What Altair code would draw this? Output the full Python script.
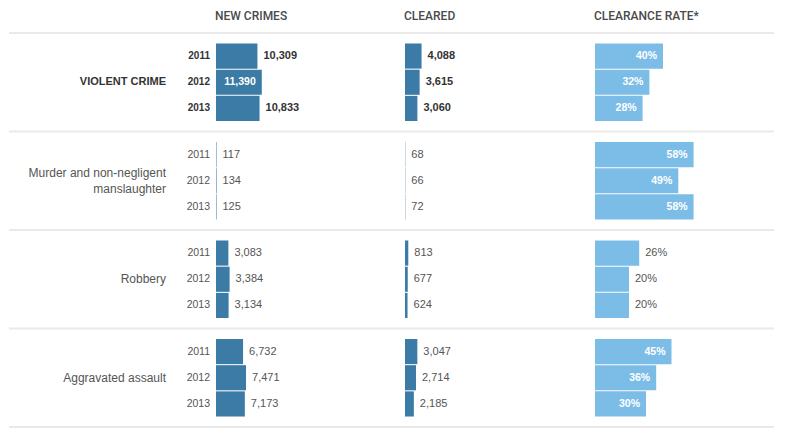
import altair as alt
import pandas as pd

groups = ["VIOLENT CRIME", "Murder and non-negligent|manslaughter", "Robbery", "Aggravated assault"]
years = ["2011", "2012", "2013"]
new_crimes = [[10309, 11390, 10833], [117, 134, 125], [3083, 3384, 3134], [6732, 7471, 7173]]
cleared = [[4088, 3615, 3060], [68, 66, 72], [813, 677, 624], [3047, 2714, 2185]]
rates = [[40, 32, 28], [58, 49, 58], [26, 20, 20], [45, 36, 30]]
headers = ["NEW CRIMES", "CLEARED", "CLEARANCE RATE*"]

rows = []
for gi, g in enumerate(groups):
    for yi, y in enumerate(years):
        rows.append({
            "group": g, "gi": gi, "year": y,
            "new": new_crimes[gi][yi], "new_lbl": f"{new_crimes[gi][yi]:,}",
            "cleared": cleared[gi][yi], "cleared_lbl": f"{cleared[gi][yi]:,}",
            "rate": rates[gi][yi], "rate_lbl": f"{rates[gi][yi]}%",
        })
df = pd.DataFrame(rows)
gdf = pd.DataFrame({"group": groups, "gi": list(range(len(groups)))})

DARK = "#3b7ba6"
LIGHT = "#7cbde8"
LINE = "#e9e9e9"
FONT = "Liberation Sans"
H = 394

Y = alt.Y("group:N", sort=groups, scale=alt.Scale(paddingInner=0, paddingOuter=0), axis=None)
YOFF = alt.YOffset("year:N", sort=years, scale=alt.Scale(paddingInner=0.04, paddingOuter=0.4))


def rules():
    top = alt.Chart(gdf).mark_rule(color=LINE, strokeWidth=2).encode(
        y=alt.Y("group:N", sort=groups, bandPosition=0, scale=alt.Scale(paddingInner=0, paddingOuter=0), axis=None))
    bottom = alt.Chart(gdf).transform_filter(f"datum.gi == {len(groups) - 1}").mark_rule(color=LINE, strokeWidth=2).encode(
        y=alt.Y("group:N", sort=groups, bandPosition=1, scale=alt.Scale(paddingInner=0, paddingOuter=0), axis=None))
    return [top, bottom]


def title(text):
    return alt.TitleParams(text, anchor="start", font="Roboto", fontSize=12, fontWeight=500,
                           color="#4a4a4a", offset=9)


# label panel
xl = alt.X("pos:Q", scale=alt.Scale(domain=[0, 1]), axis=None)
lab_base = alt.Chart(df).transform_calculate(pos="1")
cat_first = alt.Chart(gdf).transform_filter("datum.gi == 0").transform_calculate(pos="1").mark_text(
    align="right", baseline="middle", dx=-50, font=FONT, fontSize=11, fontWeight="bold", color="#333"
).encode(x=xl, y=Y, text="group:N")
cat_single = alt.Chart(gdf).transform_filter("datum.gi > 0 && indexof(datum.group, '|') < 0").transform_calculate(pos="1").mark_text(
    align="right", baseline="middle", dx=-50, font=FONT, fontSize=12, color="#555"
).encode(x=xl, y=Y, text="group:N")
cat_multi = alt.Chart(gdf).transform_filter("datum.gi > 0 && indexof(datum.group, '|') >= 0").transform_calculate(pos="1").mark_text(
    align="right", baseline="middle", dx=-50, dy=-8, font=FONT, fontSize=12, color="#555", lineBreak="|", lineHeight=16
).encode(x=xl, y=Y, text="group:N")
yr_first = lab_base.transform_filter("datum.gi == 0").mark_text(
    align="right", baseline="middle", dx=-6, font=FONT, fontSize=10, fontWeight="bold", color="#333"
).encode(x=xl, y=Y, yOffset=YOFF, text="year:N")
yr_rest = lab_base.transform_filter("datum.gi > 0").mark_text(
    align="right", baseline="middle", dx=-6, font=FONT, fontSize=10.5, color="#555"
).encode(x=xl, y=Y, yOffset=YOFF, text="year:N")
label_panel = alt.layer(*rules(), cat_first, cat_single, cat_multi, yr_first, yr_rest).properties(
    width=207, height=H, title=title("\u00a0"))


def value_panel(field, lbl, head, width, ppu, color, inside_test):
    x = alt.X(f"{field}:Q", scale=alt.Scale(domain=[0, width / ppu], nice=False, zero=True), axis=None)
    base = alt.Chart(df)
    bars = base.mark_bar(color=color).encode(x=x, y=Y, yOffset=YOFF)
    enc = dict(x=x, y=Y, yOffset=YOFF, text=f"{lbl}:N")
    out_first = base.transform_filter(f"!({inside_test}) && datum.gi == 0").mark_text(
        align="left", baseline="middle", dx=6, font=FONT, fontSize=11, fontWeight="bold", color="#333"
    ).encode(**enc)
    out_rest = base.transform_filter(f"!({inside_test}) && datum.gi > 0").mark_text(
        align="left", baseline="middle", dx=6, font=FONT, fontSize=11, color="#555"
    ).encode(**enc)
    inside = base.transform_filter(inside_test).mark_text(
        align="right", baseline="middle", dx=-6, font=FONT, fontSize=10.5, fontWeight="bold", color="white"
    ).encode(**enc)
    return alt.layer(*rules(), bars, out_first, out_rest, inside).properties(
        width=width, height=H, title=title(head))


p_new = value_panel("new", "new_lbl", headers[0], 189, 0.00402, DARK, "datum.new > 11000")
p_clr = value_panel("cleared", "cleared_lbl", headers[1], 190, 0.00405, DARK, "datum.cleared > 20000")
p_rate = value_panel("rate", "rate_lbl", headers[2], 179, 1.7, LIGHT, "datum.rate >= 28")

chart = alt.hconcat(label_panel, p_new, p_clr, p_rate, spacing=0, bounds="flush").properties(
    padding={"top": 2, "left": 0, "right": 0, "bottom": 0}
).configure_view(stroke=None)

chart.save("out.html", embed_options={"renderer": "svg", "actions": False})
